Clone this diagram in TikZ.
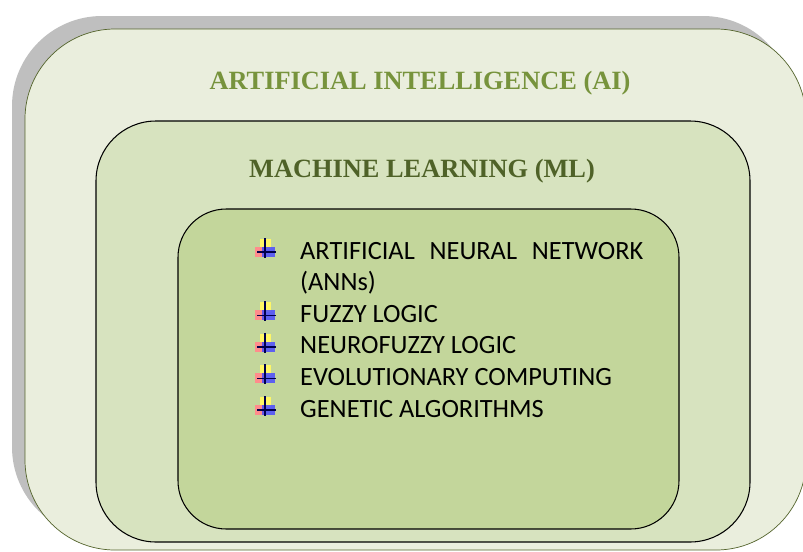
\documentclass[tikz,border=0pt]{standalone}
\usepackage{fontspec}
\usepackage{xcolor}
\usepackage{tikz}
\setmainfont{Liberation Serif}
\newfontfamily\listfont{Carlito}
\definecolor{shadowgray}{RGB}{191,191,191}
\definecolor{aifill}{RGB}{234,238,221}
\definecolor{aiborder}{RGB}{84,100,44}
\definecolor{mlfill}{RGB}{215,227,191}
\definecolor{annfill}{RGB}{195,214,155}
\definecolor{aititle}{RGB}{119,147,60}
\definecolor{mltitle}{RGB}{79,98,40}

\begin{document}
\begin{tikzpicture}[
    x=0.03cm, y=-0.03cm,
    title/.style={anchor=base, font=\fontsize{22.5}{27}\selectfont\bfseries},
    item/.style={anchor=base west, inner sep=0pt, font=\listfont\fontsize{22.5}{27}\selectfont},
    bullet/.pic={
        \fill[yellow!60!white] (-6,-10) rectangle (5,0);
        \fill[red!45!white] (-11,-2) rectangle (-2,8);
        \fill[blue!70!white, opacity=0.85] (-4,-2) rectangle (9,8);
        \draw[line width=1.2pt, blue!30!black] (-1,-11) -- (-1,9);
        \draw[line width=1.2pt, blue!30!black] (-9,3) -- (10,3);
    }
]
    \clip (0,0) rectangle (803,551);

    % Nested sets
    \fill[shadowgray, rounded corners=2.7cm] (12,16) rectangle (793,537);
    \draw[fill=aifill, draw=aiborder, line width=0.6pt, rounded corners=2.7cm] (25,29) rectangle (806,550);
    \draw[fill=mlfill, line width=0.9pt, rounded corners=1.8cm] (96,121) rectangle (750,542);
    \draw[fill=annfill, line width=0.9pt, rounded corners=1.45cm] (178,209) rectangle (679,529);

    % Titles
    \node[title, text=aititle] (ai) at (420,89) {ARTIFICIAL INTELLIGENCE (AI)};
    \node[title, text=mltitle] (ml) at (422,177) {MACHINE LEARNING (ML)};

    % Techniques
    \node[item] (ann) at (300,259) {\makebox[10.29cm][s]{ARTIFICIAL NEURAL NETWORK}};
    \node[item] (anns) at (300,290.6) {(ANNs)};
    \foreach \i/\txt in {2/FUZZY LOGIC, 3/NEUROFUZZY LOGIC, 4/EVOLUTIONARY COMPUTING, 5/GENETIC ALGORITHMS}
        \node[item] (tech\i) at (300,259+31.6*\i) {\txt};
    \foreach \i in {0,2,3,4,5}
        \pic at (266,249+31.6*\i) {bullet};
\end{tikzpicture}
\end{document}
